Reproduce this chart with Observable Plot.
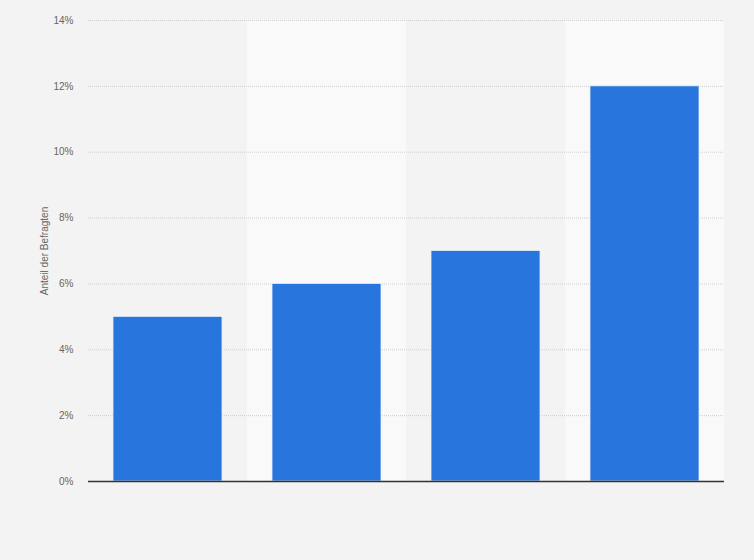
<!DOCTYPE html>
<html>
<head>
<meta charset="utf-8">
<script src="https://cdn.jsdelivr.net/npm/d3@7"></script>
<script src="https://cdn.jsdelivr.net/npm/@observablehq/plot@0.6"></script>
<style>
  html, body { margin: 0; padding: 0; background: #f3f3f3; }
  #chart { width: 754px; height: 560px; }
  svg { display: block; }
</style>
</head>
<body>
<div id="chart"></div>
<script>
const categories = ["1", "2", "3", "4"];
const values = [5, 6, 7, 12];
const yTicks = [0, 2, 4, 6, 8, 10, 12, 14];
const bandShade = ["dark", "light", "dark", "light"];

const data = categories.map((c, i) => ({category: c, value: values[i]}));
const bands = categories.map((c, i) => ({category: c, shade: bandShade[i], top: 14}));

const chart = Plot.plot({
  width: 754,
  height: 560,
  marginLeft: 88,
  marginRight: 30,
  marginTop: 20,
  marginBottom: 79,
  style: {background: "#f3f3f3", fontFamily: "'Liberation Sans', Arial, sans-serif", fontSize: "10px", color: "#666"},
  x: {domain: categories, padding: 0, axis: null},
  y: {domain: [0, 14], axis: null},
  marks: [
    Plot.barY(bands, {x: "category", y: "top", fill: d => d.shade === "light" ? "#f9f9f9" : "#f3f3f3"}),
    Plot.ruleY(yTicks.filter(t => t > 0), {stroke: "#cfcfcf", strokeDasharray: "1,1", strokeWidth: 1}),
    Plot.barY(data, {x: "category", y: "value", fill: "#2876dd", stroke: "#e6eef8", strokeWidth: 0.8, insetLeft: 25, insetRight: 25}),
    Plot.ruleY([0], {stroke: "#333", strokeWidth: 1.3}),
    Plot.axisY(yTicks, {anchor: "left", tickSize: 0, tickPadding: 15, tickFormat: d => d + "%", fill: "#666", fontSize: 10,
      label: "Anteil der Befragten", labelAnchor: "center", labelArrow: "none", labelOffset: 48})
  ]
});
document.getElementById("chart").appendChild(chart);
</script>
</body>
</html>
